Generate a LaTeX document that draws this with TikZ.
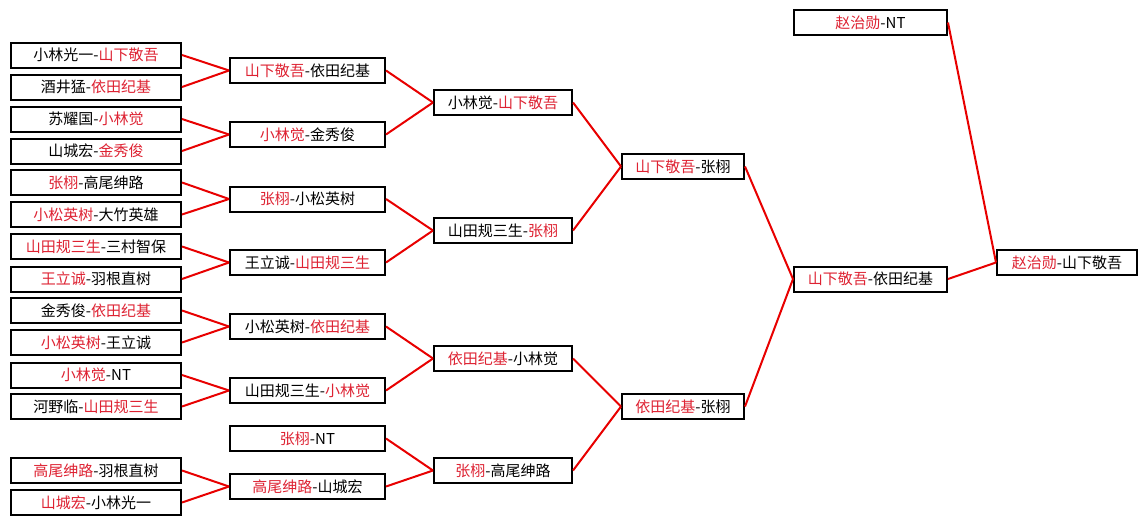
\documentclass[tikz,border=0pt]{standalone}
\usepackage{fontspec}
\setmainfont{Noto Sans CJK SC}
\definecolor{winred}{RGB}{222,34,50}
\definecolor{linkred}{RGB}{232,0,0}
\tikzset{box/.style={draw, line width=1.5pt, fill=white, minimum height=18.75pt, inner sep=0pt,
    font=\fontsize{11.25}{12}\selectfont},
  link/.style={linkred, line width=1.5pt}}
\newcommand{\win}[1]{\textcolor{winred}{#1}}

\begin{document}
\begin{tikzpicture}[x=0.75pt,y=-0.75pt]
  \useasboundingbox (0,0) rectangle (1146,525);
  % round 1
  \foreach \i/\y/\t in {1/55/{小林光一-\win{山下敬吾}}, 2/87/{酒井猛-\win{依田纪基}},
      3/119/{苏耀国-\win{小林觉}}, 4/151/{山城宏-\win{金秀俊}},
      5/182.5/{\win{张栩}-高尾绅路}, 6/214.5/{\win{小松英树}-大竹英雄},
      7/246.5/{\win{山田规三生}-三村智保}, 8/279/{\win{王立诚}-羽根直树},
      9/310.5/{金秀俊-\win{依田纪基}}, 10/342.5/{\win{小松英树}-王立诚},
      11/375/{\win{小林觉}-NT}, 12/406.5/{河野临-\win{山田规三生}},
      13/470.5/{\win{高尾绅路}-羽根直树}, 14/502.5/{\win{山城宏}-小林光一}}{
    \node[box, minimum width=127.5pt] (p\i) at (96,\y) {\t};}
  % round 2
  \foreach \i/\y/\t in {1/70.5/{\win{山下敬吾}-依田纪基}, 2/134.5/{\win{小林觉}-金秀俊},
      3/199/{\win{张栩}-小松英树}, 4/262.5/{王立诚-\win{山田规三生}},
      5/326.5/{小松英树-\win{依田纪基}}, 6/390.5/{山田规三生-\win{小林觉}},
      7/438.5/{\win{张栩}-NT}, 8/486.5/{\win{高尾绅路}-山城宏}}{
    \node[box, minimum width=116.25pt] (q\i) at (307.5,\y) {\t};}
  % round 3
  \foreach \i/\y/\t in {1/102.5/{小林觉-\win{山下敬吾}}, 2/230.5/{山田规三生-\win{张栩}},
      3/358.5/{\win{依田纪基}-小林觉}, 4/470.5/{\win{张栩}-高尾绅路}}{
    \node[box, minimum width=103.5pt] (s\i) at (503,\y) {\t};}
  % round 4
  \node[box, minimum width=91.5pt] (t1) at (683,166.5) {\win{山下敬吾}-张栩};
  \node[box, minimum width=91.5pt] (t2) at (683,406.5) {\win{依田纪基}-张栩};
  % final
  \node[box, minimum width=114.75pt] (u0) at (870.5,22.5) {\win{赵治勋}-NT};
  \node[box, minimum width=114.75pt] (u1) at (870.5,279) {\win{山下敬吾}-依田纪基};
  \node[box, minimum width=105pt] (v) at (1067,262.5) {\win{赵治勋}-山下敬吾};
  % connectors
  \foreach \a/\b in {p1/q1,p2/q1,p3/q2,p4/q2,p5/q3,p6/q3,p7/q4,p8/q4,
      p9/q5,p10/q5,p11/q6,p12/q6,p13/q8,p14/q8,
      q1/s1,q2/s1,q3/s2,q4/s2,q5/s3,q6/s3,q7/s4,q8/s4,
      s1/t1,s2/t1,s3/t2,s4/t2,t1/u1,t2/u1,u0/v,u1/v}
    \draw[link] (\a.east) -- (\b.west);
\end{tikzpicture}
\end{document}
